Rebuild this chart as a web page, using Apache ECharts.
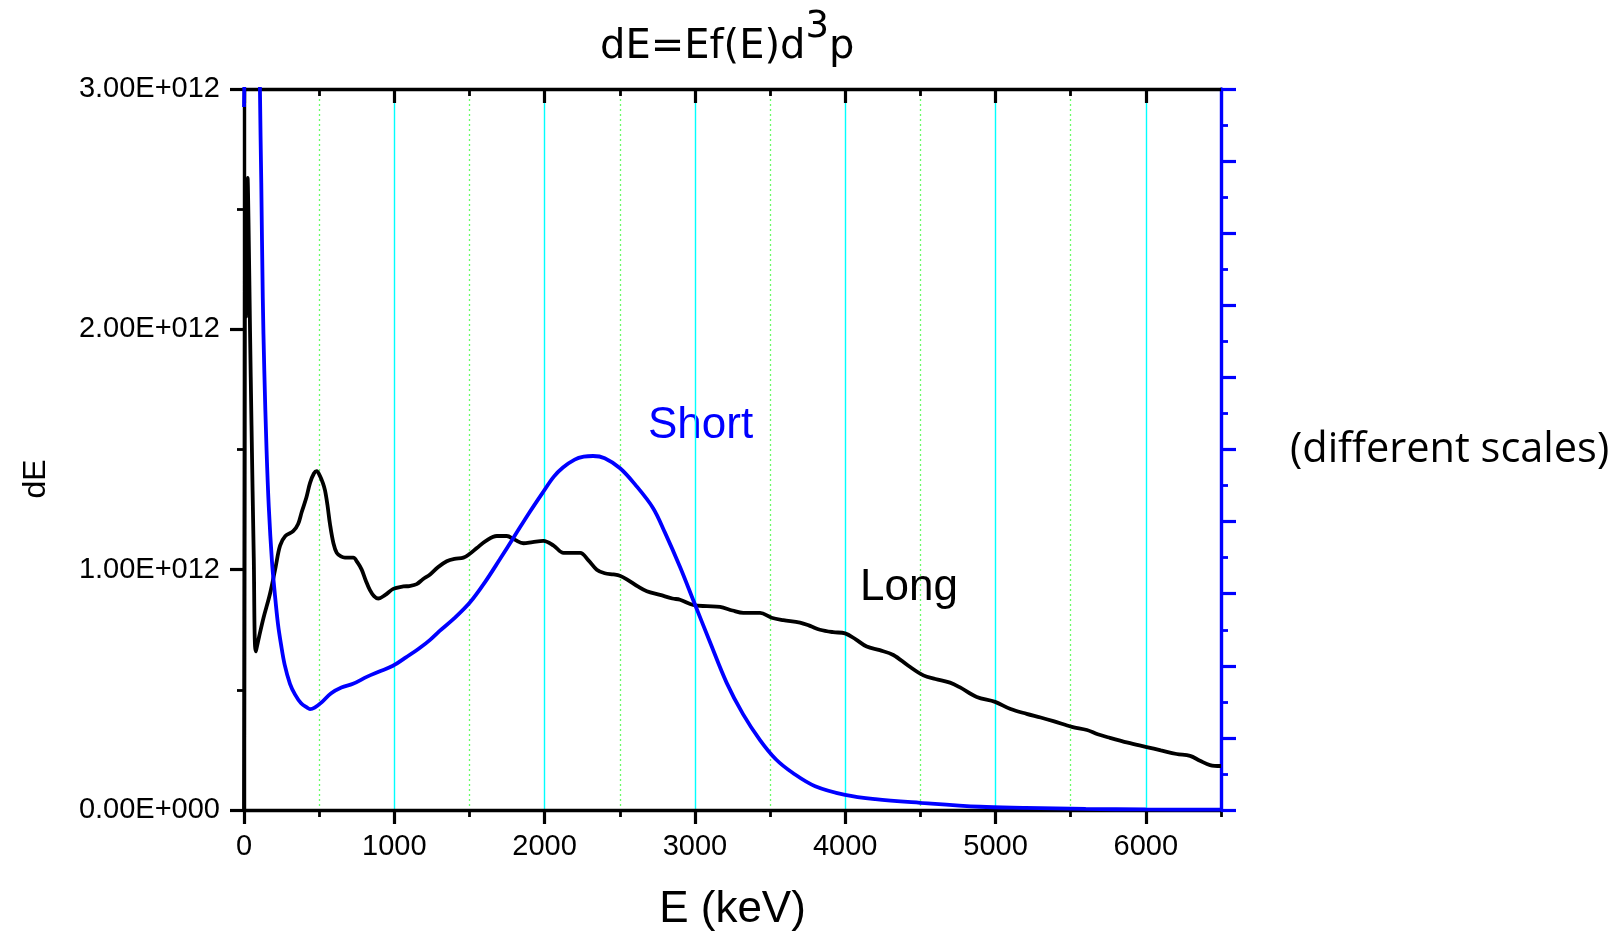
<!DOCTYPE html>
<html><head><meta charset="utf-8">
<script src="https://cdn.jsdelivr.net/npm/echarts@6/dist/echarts.min.js"></script>
<style>html,body{margin:0;padding:0;background:#fff}#c{width:1622px;height:937px}</style>
</head><body><div id="c"></div>
<script>
// ---- data ----
// Long: E (keV) and dE (units of 1e12)
const longE = [0,4,8,13,18,24,30,40,50,65,78,100,130,173,210,240,275,327,360,384,415,439,465,484,505,525,539,555,572,595,617,645,672,700,727,755,783,810,838,865,893,940,993,1060,1100,1149,1190,1238,1290,1349,1400,1460,1500,1549,1610,1682,1748,1800,1859,1920,1992,2060,2126,2180,2237,2290,2347,2400,2458,2500,2547,2620,2680,2768,2850,2901,2989,3080,3167,3250,3322,3433,3510,3588,3699,3770,3832,3920,3999,4070,4143,4230,4320,4420,4520,4600,4697,4764,4875,4997,5100,5207,5300,5385,5508,5608,5680,5761,5880,6005,6100,6205,6294,6360,6427,6500];
const longDE = [0,1.3,2.52,2.05,2.3,2.63,2.45,2.0,1.6,1.05,0.66,0.72,0.80,0.90,1.01,1.10,1.14,1.16,1.19,1.24,1.30,1.36,1.40,1.41,1.39,1.36,1.33,1.27,1.19,1.11,1.07,1.055,1.05,1.05,1.05,1.03,1.00,0.955,0.915,0.89,0.88,0.895,0.92,0.93,0.932,0.94,0.96,0.98,1.01,1.035,1.045,1.05,1.065,1.09,1.12,1.14,1.14,1.125,1.11,1.115,1.12,1.10,1.07,1.07,1.07,1.04,1.00,0.985,0.98,0.975,0.96,0.93,0.91,0.895,0.88,0.875,0.853,0.848,0.845,0.83,0.82,0.82,0.80,0.79,0.78,0.765,0.75,0.74,0.735,0.71,0.68,0.665,0.645,0.60,0.56,0.545,0.53,0.51,0.47,0.45,0.42,0.40,0.385,0.37,0.346,0.333,0.315,0.30,0.28,0.262,0.248,0.233,0.225,0.205,0.187,0.183];
// Short: E (keV) and dE on its own (right, unlabeled) scale 0..10
const shortE = [0,7,12,40,95,106,115,125,135,150,165,186,205,226,246,270,306,340,380,420,439,470,520,580,648,725,820,900,991,1080,1171,1238,1300,1400,1504,1600,1700,1800,1900,1990,2060,2122,2200,2260,2322,2400,2502,2600,2721,2800,2901,2989,3100,3212,3320,3433,3540,3654,3800,3999,4200,4498,4897,5200,5600,6000,6500];
const shortDE = [9.75,11,16,30,13,10,8.7,7.1,6.1,5.0,4.2,3.45,3.0,2.58,2.3,2.02,1.75,1.6,1.48,1.42,1.40,1.42,1.50,1.62,1.70,1.75,1.85,1.92,2.0,2.12,2.25,2.36,2.48,2.66,2.88,3.15,3.47,3.80,4.13,4.41,4.62,4.75,4.86,4.90,4.91,4.88,4.74,4.52,4.19,3.85,3.37,2.91,2.33,1.76,1.33,0.97,0.70,0.51,0.33,0.21,0.15,0.10,0.045,0.03,0.015,0.008,0.004];
// tick labels
const xMajorTicks = [0,1000,2000,3000,4000,5000,6000];
const xMinorTicks = [500,1500,2500,3500,4500,5500];
const yTickLabels = ['0.00E+000','1.00E+012','2.00E+012','3.00E+012'];

const FF = "'Liberation Sans', Arial, sans-serif";
const longData = longE.map((e,i)=>[e, longDE[i]*1e12]);
const shortData = shortE.map((e,i)=>[e, shortDE[i]]);

const chart = echarts.init(document.getElementById('c'), null, {renderer:'canvas'});
const baseX = {type:'value', min:0, max:6500, splitLine:{show:false}, axisLabel:{show:false}};
chart.setOption({
  animation:false,
  backgroundColor:'#fff',
  grid:{left:244, top:89, width:977, height:721, containLabel:false},
  xAxis:[
    Object.assign({}, baseX, {
      position:'bottom', interval:1000,
      axisLine:{show:true, onZero:false, lineStyle:{color:'#000', width:3.4}},
      axisTick:{show:true, inside:false, length:14, lineStyle:{color:'#000', width:3.2}, customValues:xMajorTicks},
      axisLabel:{show:true, customValues:xMajorTicks, margin:22, fontSize:29, color:'#000', fontFamily:FF,
        formatter:v=> v>6000 ? '' : String(v)},
      splitLine:{show:true, lineStyle:{color:'#00ffff', width:1.4}},
      name:'E (keV)', nameLocation:'middle', nameGap:78,
      nameTextStyle:{fontSize:44, color:'#000', fontFamily:FF}
    }),
    Object.assign({}, baseX, {
      position:'bottom', interval:500, z:-1,
      axisLine:{show:false, onZero:false},
      axisTick:{show:true, inside:false, length:7, lineStyle:{color:'#000', width:2.8}, customValues:xMinorTicks.concat([6500])},
      splitLine:{show:true, lineStyle:{color:'#66ff66', width:1.3, type:[2,3]}}
    }),
    Object.assign({}, baseX, {
      position:'top', interval:1000,
      axisLine:{show:true, onZero:false, lineStyle:{color:'#000', width:3.4}},
      axisTick:{show:true, inside:true, length:14, lineStyle:{color:'#000', width:3.2}, customValues:xMajorTicks}
    }),
    Object.assign({}, baseX, {
      position:'top', interval:500,
      axisLine:{show:false, onZero:false},
      axisTick:{show:true, inside:true, length:7, lineStyle:{color:'#000', width:2.8}, customValues:xMinorTicks}
    })
  ],
  yAxis:[
    {type:'value', position:'left', min:0, max:3e12, interval:1e12,
     axisLine:{show:true, onZero:false, lineStyle:{color:'#000', width:3.4}},
     axisTick:{show:true, inside:false, length:14, lineStyle:{color:'#000', width:3.2}},
     minorTick:{show:true, splitNumber:2, length:7, lineStyle:{color:'#000', width:2.8}},
     axisLabel:{show:true, margin:24, fontSize:29, color:'#000', fontFamily:FF,
       formatter:v=> yTickLabels[Math.round(v/1e12)]},
     splitLine:{show:false}},
    {type:'value', position:'right', min:0, max:10, interval:1,
     axisLine:{show:true, onZero:false, lineStyle:{color:'#0000ff', width:3.4}},
     axisTick:{show:true, inside:false, length:15, lineStyle:{color:'#0000ff', width:3.2}},
     minorTick:{show:true, splitNumber:2, length:7, lineStyle:{color:'#0000ff', width:2.8}},
     axisLabel:{show:false}, splitLine:{show:false}}
  ],
  series:[
    {name:'Long', type:'line', xAxisIndex:0, yAxisIndex:0, data:longData, showSymbol:false,
     smooth:0.35, clip:true, lineStyle:{color:'#000', width:3.8}, itemStyle:{color:'#000'}},
    {name:'Short', type:'line', xAxisIndex:0, yAxisIndex:1, data:shortData, showSymbol:false,
     smooth:0.35, clip:true, lineStyle:{color:'#0000ff', width:3.8}, itemStyle:{color:'#0000ff'}}
  ],
  graphic:[
    {type:'text', x:600, y:68, style:{
      text:'{a|dE=Ef(E)d}{s|3}{a|p}', align:'left', verticalAlign:'bottom', fill:'#000',
      rich:{a:{fontSize:40, fontFamily:"'DejaVu Sans', sans-serif", lineHeight:40, verticalAlign:'bottom'},
            s:{fontSize:37, fontFamily:"'DejaVu Sans', sans-serif", lineHeight:37, verticalAlign:'bottom', padding:[0,0,22,0]}}}},
    {type:'text', x:36, y:479, rotation:Math.PI/2, style:{text:'dE', fontSize:32, fontFamily:FF, fill:'#000', align:'center', verticalAlign:'middle'}},
    {type:'text', x:648, y:426, style:{text:'Short', fontSize:44, fontFamily:FF, fill:'#0000ff', align:'left', verticalAlign:'middle'}},
    {type:'text', x:860, y:588, style:{text:'Long', fontSize:44, fontFamily:FF, fill:'#000', align:'left', verticalAlign:'middle'}},
    {type:'text', x:1290, y:450, style:{text:'(different scales)', fontSize:41.5, fontFamily:"'Open Sans', 'Noto Sans', sans-serif", fill:'#000', align:'left', verticalAlign:'middle'}}
  ]
});
</script></body></html>
